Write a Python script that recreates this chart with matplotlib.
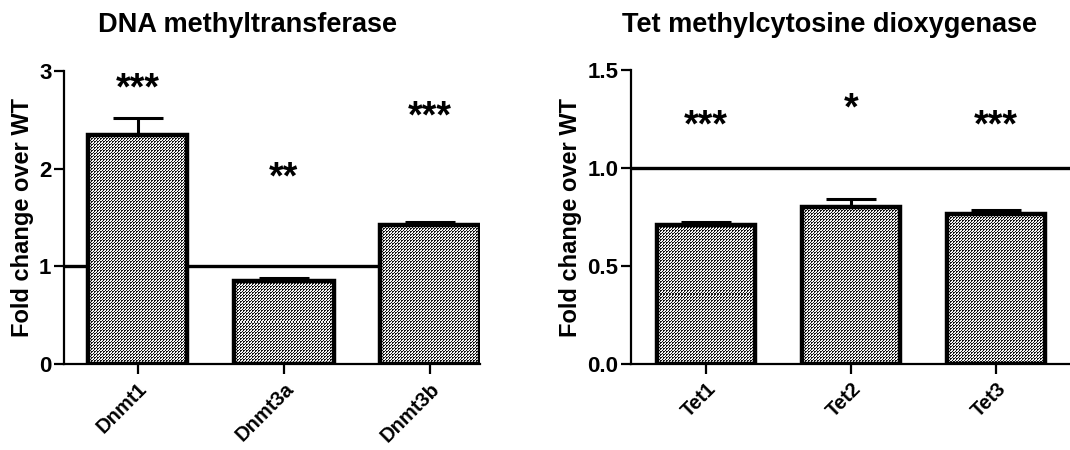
import numpy as np
import matplotlib
matplotlib.use('Agg')
import matplotlib.pyplot as plt

plt.rcParams['font.family'] = ['Liberation Sans', 'DejaVu Sans']
plt.rcParams['font.weight'] = 'bold'

# DNA methyltransferase panel
dnmt_genes = ['Dnmt1', 'Dnmt3a', 'Dnmt3b']
dnmt_fold = [2.34, 0.85, 1.42]
dnmt_sem = [0.18, 0.03, 0.03]
dnmt_stars = ['***', '**', '***']
dnmt_star_y = [2.81, 1.90, 2.52]

# Tet panel
tet_genes = ['Tet1', 'Tet2', 'Tet3']
tet_fold = [0.71, 0.80, 0.765]
tet_sem = [0.015, 0.04, 0.02]
tet_stars = ['***', '*', '***']
tet_star_y = [1.21, 1.30, 1.21]

# small checker tile used as the bar fill (one cell = one pixel)
TILE = np.array([[0.0, 0.0, 1.0],
                 [0.0, 1.0, 1.0],
                 [1.0, 1.0, 0.0]])


def pattern_fill(ax, bar):
    # pixel-sized tile pattern clipped to the bar
    x0, y0 = bar.get_x(), bar.get_y()
    x1, y1 = x0 + bar.get_width(), y0 + bar.get_height()
    p0 = ax.transData.transform((x0, y0))
    p1 = ax.transData.transform((x1, y1))
    nx = max(int(round(abs(p1[0] - p0[0]))), 1)
    ny = max(int(round(abs(p1[1] - p0[1]))), 1)
    reps = (ny // 3 + 1, nx // 3 + 1)
    grid = np.tile(TILE, reps)[:ny, :nx]
    im = ax.imshow(grid, cmap='gray', vmin=-0.1, vmax=1.05,
                   extent=(x0, x1, y0, y1), aspect='auto',
                   interpolation='nearest', zorder=2)
    im.set_clip_path(bar)


def draw_panel(ax, genes, fold, sem, stars, star_y, ylim, yticks, ytl, xlim):
    x = np.arange(len(genes))
    ax.set_xlim(*xlim)
    ax.set_ylim(*ylim)
    ax.axhline(1.0, color='black', lw=2.4, zorder=1)
    ax.errorbar(x, fold, yerr=[np.zeros(len(sem)), sem], fmt='none',
                ecolor='black', elinewidth=2.2, capsize=18, capthick=2.2,
                zorder=1.5)
    bars = ax.bar(x, fold, width=0.68, color='none', edgecolor='black',
                  linewidth=3.2, zorder=3)
    for b in bars:
        pattern_fill(ax, b)
    for xi, s, sy in zip(x, stars, star_y):
        ax.text(xi, sy, s, ha='center', va='center', fontsize=27,
                fontweight='bold')
    ax.set_xticks(x)
    ax.set_xticklabels(genes, rotation=45, ha='right', rotation_mode='anchor',
                       fontsize=14.5, fontweight='bold')
    ax.set_yticks(yticks)
    ax.set_yticklabels(ytl, fontsize=16, fontweight='bold')
    ax.tick_params(axis='y', width=1.6, length=7, pad=2)
    ax.tick_params(axis='x', width=1.6, length=7, pad=4)
    ax.set_ylabel('Fold change over WT', fontsize=17, fontweight='bold')
    ax.spines['top'].set_visible(False)
    ax.spines['right'].set_visible(False)
    ax.spines['left'].set_linewidth(1.6)
    ax.spines['bottom'].set_linewidth(1.6)


fig = plt.figure(figsize=(10.7, 4.5), dpi=100)
ax1 = fig.add_axes([0.0598, 0.1911, 0.3888, 0.6511])
ax2 = fig.add_axes([0.5897, 0.1911, 0.4103, 0.6533])

draw_panel(ax1, dnmt_genes, dnmt_fold, dnmt_sem, dnmt_stars, dnmt_star_y,
           (0, 3), [0, 1, 2, 3], ['0', '1', '2', '3'], (-0.503, 2.34))
draw_panel(ax2, tet_genes, tet_fold, tet_sem, tet_stars, tet_star_y,
           (0, 1.5), [0, 0.5, 1.0, 1.5], ['0.0', '0.5', '1.0', '1.5'],
           (-0.517, 2.51))

fig.text(0.231, 0.944, 'DNA methyltransferase', ha='center', va='center',
         fontsize=19.5, fontweight='bold')
fig.text(0.775, 0.944, 'Tet methylcytosine dioxygenase', ha='center',
         va='center', fontsize=19.5, fontweight='bold')

fig.savefig('out.png', dpi=100)
